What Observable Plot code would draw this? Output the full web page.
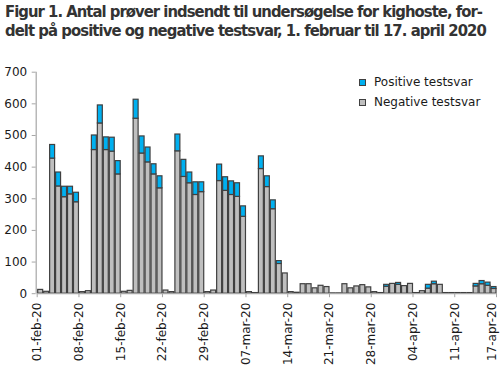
<!DOCTYPE html>
<html><head><meta charset="utf-8">
<script src="https://cdn.jsdelivr.net/npm/d3@7"></script>
<script src="https://cdn.jsdelivr.net/npm/@observablehq/plot@0.6"></script>
<style>
body{margin:0;background:#fff;font-family:"DejaVu Sans",sans-serif;}
#wrap{position:relative;width:500px;height:374px;overflow:hidden;background:#fff}
#title{position:absolute;left:5px;top:2px;font-family:"Liberation Sans Narrow","DejaVu Sans Condensed","Liberation Sans",sans-serif;font-weight:bold;font-size:16.5px;color:#333;line-height:19.4px;white-space:nowrap}
#title span{display:inline-block}
#chart{position:absolute;left:0;top:55px}
.leg{position:absolute;left:374px;font-size:12px;color:#1a1a1a;line-height:12px;white-space:nowrap}
.sw{position:absolute;left:359px;width:5px;height:5px;border:1px solid #404040}
</style></head>
<body>
<div id="wrap">
  <div id="title"><span id="t1"></span><br><span id="t2"></span></div>
  <div id="chart"></div>
  <div class="sw" id="sw0" style="top:79px"></div><div class="leg" id="lg0" style="top:76px"></div>
  <div class="sw" id="sw1" style="top:99px"></div><div class="leg" id="lg1" style="top:96px"></div>
</div>
<script>
const titleLines = ["Figur 1. Antal prøver indsendt til undersøgelse for kighoste, for-",
                    "delt på positive  og negative testsvar,  1. februar til 17. april 2020"];
const startDate = "2020-02-01";
const endDate = "2020-04-18";
const negative = [12,6,427,339,305,314,289,5,8,454,538,454,449,377,6,9,553,443,415,377,333,10,5,
  450,369,349,312,321,5,10,356,325,312,306,243,5,2,394,337,267,94,64,5,3,30,30,17,25,21,1,1,
  30,17,23,27,20,5,2,22,31,28,24,31,2,8,16,30,28,2,2,2,2,2,23,30,25,15];
const positive = [0,0,43,44,33,24,30,0,0,46,57,40,44,42,0,0,60,54,47,32,38,0,0,
  53,54,34,40,31,0,0,52,43,43,43,33,0,0,40,34,28,9,0,0,0,0,0,0,0,0,0,0,
  0,0,0,0,0,0,0,6,0,6,0,0,0,0,12,8,0,0,0,0,0,0,8,10,10,6];
const seriesNames = ["Negative testsvar", "Positive testsvar"];
const seriesColors = ["#bfbfbf", "#00b0f0"];
const legendOrder = ["Positive testsvar", "Negative testsvar"];
const yTicks = [0,100,200,300,400,500,600,700];
const xTickDates = ["2020-02-01","2020-02-08","2020-02-15","2020-02-22","2020-02-29","2020-03-07",
  "2020-03-14","2020-03-21","2020-03-28","2020-04-04","2020-04-11","2020-04-18"];
const xTickLabels = ["01-feb-20","08-feb-20","15-feb-20","22-feb-20","29-feb-20","07-mar-20",
  "14-mar-20","21-mar-20","28-mar-20","04-apr-20","11-apr-20","17-apr-20"];

const start = new Date(startDate + "T00:00Z");
const end = new Date(endDate + "T00:00Z");
const rows = [];
negative.forEach((v, i) => {
  const date = d3.utcDay.offset(start, i);
  rows.push({date, type: seriesNames[0], value: v});
  rows.push({date, type: seriesNames[1], value: positive[i]});
});
const tickDates = xTickDates.map(s => new Date(s + "T00:00Z"));
const labelMap = new Map(tickDates.map((d, i) => [+d, xTickLabels[i]]));
const lastTick = tickDates[tickDates.length - 1];
const axisStyle = {stroke: "#a6a6a6", fill: "#1a1a1a", label: null, tickRotate: -90};

const plot = Plot.plot({
  width: 500, height: 319,
  marginTop: 16.7, marginBottom: 80.8, marginLeft: 36.7, marginRight: 4,
  style: {fontFamily: "DejaVu Sans", fontSize: "12px", color: "#1a1a1a", background: "white"},
  x: {type: "utc", domain: [start, end]},
  y: {domain: [0, 700]},
  color: {domain: seriesNames, range: seriesColors},
  marks: [
    Plot.rectY(rows, {x: "date", y: "value", fill: "type", interval: d3.utcDay,
      stroke: "#404040", strokeWidth: 1.2}),
    Plot.ruleY([0], {stroke: "#a6a6a6", strokeWidth: 1.2}),
    Plot.ruleX([start], {stroke: "#a6a6a6", strokeWidth: 1.2, dx: -1}),
    Plot.axisY({ticks: yTicks, tickSize: 4, tickPadding: 5, stroke: "#a6a6a6", fill: "#1a1a1a", label: null, dx: -1}),
    Plot.axisX({...axisStyle, ticks: tickDates, tickFormat: d => (+d === +lastTick ? "" : labelMap.get(+d)),
      tickSize: 4, tickPadding: 5}),
    Plot.axisX({...axisStyle, ticks: [lastTick], tickFormat: d => labelMap.get(+d),
      tickSize: 0, tickPadding: 9, dx: -4})
  ]
});
document.getElementById("chart").appendChild(plot);

legendOrder.forEach((name, i) => {
  document.getElementById("sw" + i).style.background = seriesColors[seriesNames.indexOf(name)];
  document.getElementById("lg" + i).textContent = name;
});

const targets = [477, 479];
titleLines.forEach((t, i) => {
  const el = document.getElementById("t" + (i + 1));
  el.textContent = t;
  const w = el.getBoundingClientRect().width;
  el.style.letterSpacing = ((targets[i] - w) / t.length) + "px";
});
</script>
</body></html>
